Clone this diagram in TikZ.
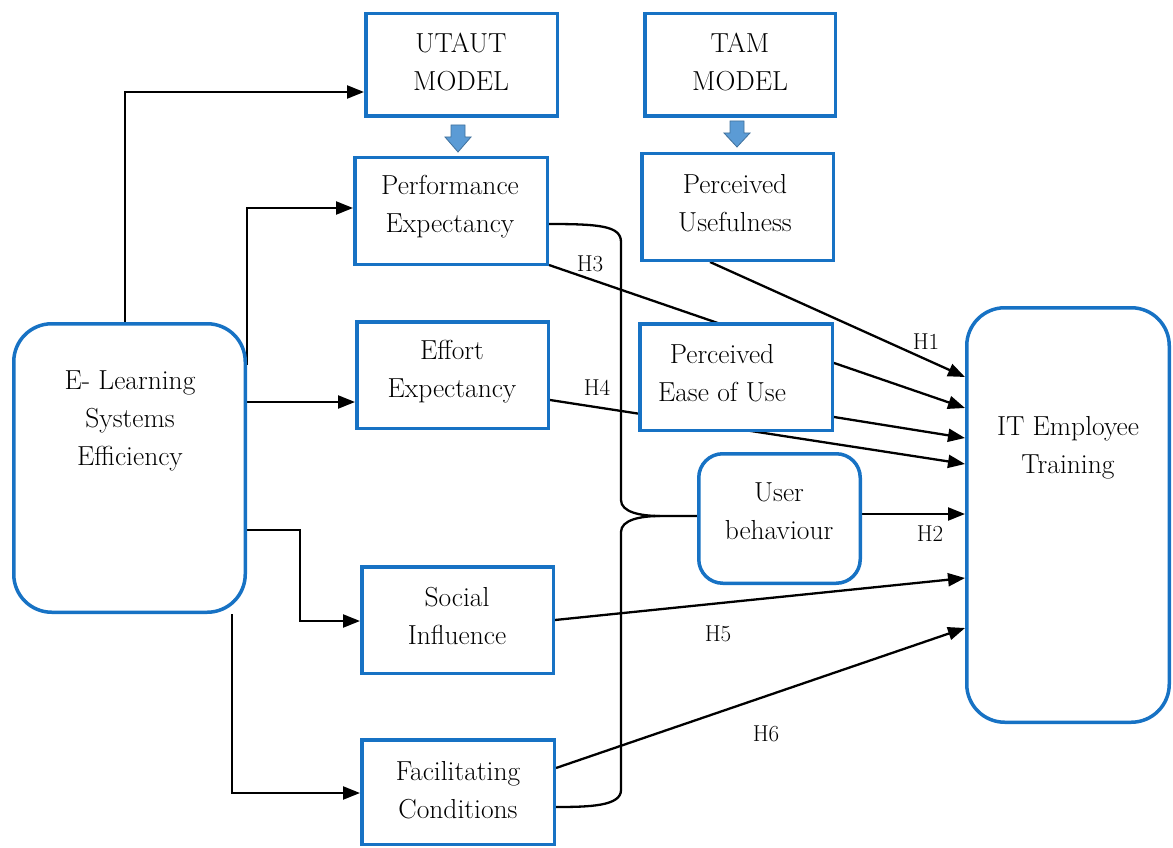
\documentclass[tikz,border=0pt]{standalone}
\usepackage{fontspec}
\usetikzlibrary{arrows.meta,backgrounds}
\definecolor{boxblue}{RGB}{23,114,196}
\definecolor{arrfill}{RGB}{91,155,213}
\definecolor{arrline}{RGB}{65,113,156}
\tikzset{
  box/.style={draw=boxblue,line width=3.5pt,fill=white,inner sep=0pt},
  rbox/.style={box,rounded corners=38pt},
  ubox/.style={box,rounded corners=24pt},
  txt/.style={align=center,font=\rmfamily\fontsize{27.5}{38}\selectfont,inner sep=0pt},
  hlab/.style={font=\rmfamily\fontsize{23}{26}\selectfont,inner sep=0pt},
  conn/.style={line width=2.3pt,black},
  arr/.style={conn,-{Triangle[length=17pt,width=13pt]}},
  blockarr/.style={fill=arrfill,draw=arrline,line width=0.8pt,line join=miter}
}
\begin{document}
\begin{tikzpicture}[x=1pt,y=-1pt]
\useasboundingbox (0,0) rectangle (1173,848);
% boxes
\node[box,minimum width=191.5pt,minimum height=102.5pt] (utaut) at (461.5,65) {};
\node[box,minimum width=190.5pt,minimum height=102.5pt] (tam) at (740,65) {};
\node[box,minimum width=192.5pt,minimum height=106.5pt] (pe) at (451,211) {};
\node[box,minimum width=191.5pt,minimum height=106.5pt] (pu) at (737.5,207) {};
\node[box,minimum width=191.5pt,minimum height=106.5pt] (ee) at (452.5,375) {};
\node[box,minimum width=192.5pt,minimum height=106.5pt] (peou) at (736,377) {};
\node[ubox,minimum width=161.5pt,minimum height=129.5pt] (ub) at (779.5,518.5) {};
\node[box,minimum width=191.5pt,minimum height=106.5pt] (si) at (457.5,620) {};
\node[box,minimum width=192.5pt,minimum height=104.5pt] (fc) at (458,792) {};
\node[rbox,minimum width=231.5pt,minimum height=288.5pt] (el) at (129.5,468) {};
\node[rbox,minimum width=202.5pt,minimum height=414.5pt] (it) at (1068,515) {};
% texts
\node[txt] (tutaut) at (461,62) {UTAUT\\MODEL};
\node[txt] (ttam) at (740,62) {TAM\\MODEL};
\node[txt] (tpe) at (450,207) {Performance\\Expectancy};
\node[txt] (tpu) at (735,203) {Perceived\\Usefulness};
\node[txt] (tee) at (452,372) {Effort\\Expectancy};
\node[txt] (tpeou) at (722,373) {Perceived\\Ease of Use};
\node[txt] (tub) at (779,511) {User\\behaviour};
\node[txt] (tsi) at (457,616) {Social\\Influence};
\node[txt] (tfc) at (458,790) {Facilitating\\Conditions};
\node[txt] (tel) at (130,421) {E- Learning\\Systems\\Efficiency};
\node[txt] (tit) at (1068,448) {IT Employee\\Training};
% hypothesis labels
\node[hlab] (h1) at (926,342) {H1};
\node[hlab] (h2) at (930,534) {H2};
\node[hlab] (h3) at (590,264) {H3};
\node[hlab] (h4) at (597,388) {H4};
\node[hlab] (h5) at (718,634) {H5};
\node[hlab] (h6) at (766,734) {H6};
% block arrows
\path[blockarr] (451,125) -- (465,125) -- (465,137) -- (471,137) -- (458,152) -- (445,137) -- (451,137) -- cycle;
\path[blockarr] (730,121) -- (744,121) -- (744,133) -- (750,133) -- (737,147) -- (724,133) -- (730,133) -- cycle;
% connectors
\begin{scope}[on background layer]
\draw[arr] (el.north -| 125,0) |- (utaut.west |- 0,92);
\draw[arr] (el.east |- 0,365) |- (pe.west |- 0,208);
\draw[arr] (el.east |- 0,402) -- (ee.west |- 0,402);
\draw[arr] (el.east |- 0,530) -| (300,621) -- (si.west |- 0,621);
\draw[arr] (el.south -| 232,0) |- (fc.west |- 0,793);
\draw[arr] (pu.south -| 710,0) -- (it.west |- 0,377);
\draw[arr] (pe.east |- 0,265) -- (it.west |- 0,408);
\draw[arr] (ee.east |- 0,400) -- (it.west |- 0,464);
\draw[arr] (peou.east |- 0,417) -- (it.west |- 0,438);
\draw[arr] (ub.east |- 0,514) -- (it.west |- 0,514);
\draw[arr] (si.east |- 0,620) -- (it.west |- 0,578);
\draw[arr] (fc.east |- 0,768) -- (it.west |- 0,628);
\coordinate (tip) at (660,516);
\draw[conn] (pe.east |- 0,224) .. controls (600,224) and (621,226) .. (621,242) -- (621,500) .. controls (621,512) and (640,516) .. (tip) -- (ub.west |- 0,516);
\draw[conn] (tip) .. controls (640,516) and (621,520) .. (621,532) -- (621,790) .. controls (621,806) and (590,807) .. (fc.east |- 0,807);
\end{scope}
\end{tikzpicture}
\end{document}
